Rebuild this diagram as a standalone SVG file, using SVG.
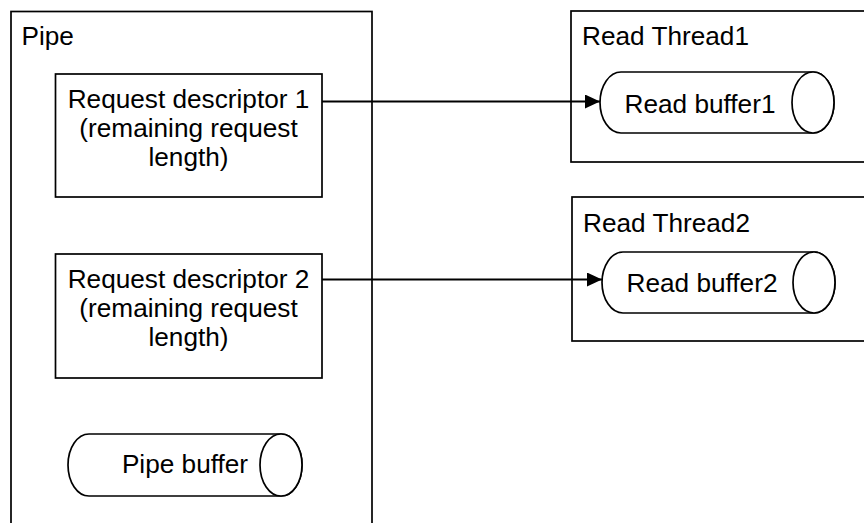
<svg xmlns="http://www.w3.org/2000/svg" width="864" height="523" viewBox="0 0 864 523">
  <defs>
    <style>
      .box { fill: #ffffff; stroke: #000000; stroke-width: 1.7; }
      .cyl { fill: #ffffff; stroke: #000000; stroke-width: 1.7; }
      .lbl { font-family: "Liberation Sans", Arial, sans-serif; font-size: 26.2px; fill: #000000; }
      .mid { text-anchor: middle; }
      .edge { fill: none; stroke: #000000; stroke-width: 2; }
    </style>
    <marker id="arrow" viewBox="0 0 15 14" refX="15" refY="7" markerWidth="15" markerHeight="14" markerUnits="userSpaceOnUse" orient="auto">
      <path d="M0,0 L15,7 L0,14 Z" fill="#000000"/>
    </marker>
  </defs>

  <rect width="864" height="523" fill="#ffffff"/>

  <!-- Pipe container -->
  <g id="pipe">
    <rect class="box" x="11" y="11.5" width="361" height="530"/>
    <text class="lbl" x="21.5" y="45">Pipe</text>
  </g>

  <g id="request-descriptor-1">
    <rect class="box" x="55.5" y="74" width="266.5" height="123"/>
    <text class="lbl mid" x="188.5" y="108">Request descriptor 1</text>
    <text class="lbl mid" x="188.5" y="137">(remaining request</text>
    <text class="lbl mid" x="188.5" y="166">length)</text>
  </g>

  <g id="request-descriptor-2">
    <rect class="box" x="55.5" y="254" width="266.5" height="124"/>
    <text class="lbl mid" x="188.5" y="288">Request descriptor 2</text>
    <text class="lbl mid" x="188.5" y="317">(remaining request</text>
    <text class="lbl mid" x="188.5" y="346">length)</text>
  </g>

  <g id="pipe-buffer">
    <path class="cyl" d="M89,434 L281,434 A21,31 0 0 1 281,496 L89,496 A21,31 0 0 1 89,434 Z"/>
    <ellipse class="cyl" cx="281" cy="465" rx="21" ry="31"/>
    <text class="lbl mid" x="185" y="473">Pipe buffer</text>
  </g>

  <!-- Read threads -->
  <g id="read-thread-1">
    <rect class="box" x="571" y="11" width="300" height="151"/>
    <text class="lbl" x="582" y="45">Read Thread1</text>
  </g>

  <g id="read-buffer-1">
    <path class="cyl" d="M621,72 L813,72 A21,30.5 0 0 1 813,133 L621,133 A21,30.5 0 0 1 621,72 Z"/>
    <ellipse class="cyl" cx="813" cy="102.5" rx="21" ry="30.5"/>
    <text class="lbl mid" x="700" y="113">Read buffer1</text>
  </g>

  <g id="read-thread-2">
    <rect class="box" x="572" y="197" width="300" height="144"/>
    <text class="lbl" x="583" y="232">Read Thread2</text>
  </g>

  <g id="read-buffer-2">
    <path class="cyl" d="M623,252 L814,252 A21,30.5 0 0 1 814,313 L623,313 A21,30.5 0 0 1 623,252 Z"/>
    <ellipse class="cyl" cx="814" cy="282.5" rx="21" ry="30.5"/>
    <text class="lbl mid" x="702" y="292">Read buffer2</text>
  </g>

  <!-- Connectors -->
  <g id="connectors">
    <line class="edge" x1="322" y1="101.5" x2="600" y2="101.5" marker-end="url(#arrow)"/>
    <line class="edge" x1="322" y1="279.5" x2="602" y2="279.5" marker-end="url(#arrow)"/>
  </g>
</svg>
